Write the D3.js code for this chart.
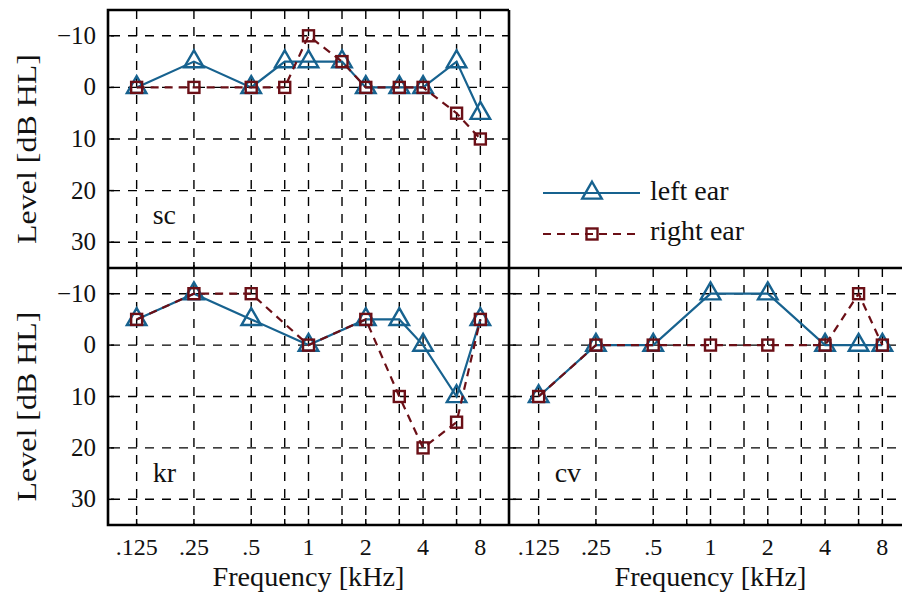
<!DOCTYPE html>
<html><head><meta charset="utf-8">
<script src="https://cdn.jsdelivr.net/npm/d3@7"></script>
<style>
body{margin:0;background:#fff;}
svg{display:block;font-family:"Liberation Serif","DejaVu Serif",serif;}
</style></head>
<body><svg id="c" width="902" height="596"></svg>
<script>
// ---- data ----
const gridFreqs = [0.125, 0.25, 0.5, 0.75, 1, 1.5, 2, 3, 4, 6, 8];
const tickFreqs = [0.125, 0.25, 0.5, 1, 2, 4, 8];
const tickLabels = [".125", ".25", ".5", "1", "2", "4", "8"];
const levelTicks = [-10, 0, 10, 20, 30];

const scFreqs  = [0.125, 0.25, 0.5, 0.75, 1, 1.5, 2, 3, 4, 6, 8];
const scLeft   = [0, -5, 0, -5, -5, -5, 0, 0, 0, -5, 5];
const scRight  = [0, 0, 0, 0, -10, -5, 0, 0, 0, 5, 10];

const krFreqs  = [0.125, 0.25, 0.5, 1, 2, 3, 4, 6, 8];
const krLeft   = [-5, -10, -5, 0, -5, -5, 0, 10, -5];
const krRight  = [-5, -10, -10, 0, -5, 10, 20, 15, -5];

const cvFreqs  = [0.125, 0.25, 0.5, 1, 2, 4, 6, 8];
const cvLeft   = [10, 0, 0, -10, -10, 0, 0, 0];
const cvRight  = [10, 0, 0, 0, 0, 0, -10, 0];

const seriesNames = ["left ear", "right ear"];
const BLUE = "#17628f", RED = "#6b0f16";

const svg = d3.select("#c");
const fDomain = [0.125/Math.SQRT2, 8*Math.SQRT2];
const yDomain = [-15, 35];
const TRI = 165, SQ = 11;

function panel(cfg){
  const x = d3.scaleLog().domain(fDomain).range([cfg.x0, cfg.x1]);
  const y = d3.scaleLinear().domain(yDomain).range([cfg.y0, cfg.y1]);
  const g = svg.append("g");
  // grid
  g.selectAll(".vg").data(gridFreqs).join("line")
    .attr("x1", d=>x(d)).attr("x2", d=>x(d)).attr("y1", cfg.y0).attr("y2", cfg.y1)
    .attr("stroke","#000").attr("stroke-width",1.4).attr("stroke-dasharray","9,8");
  g.selectAll(".hg").data(levelTicks).join("line")
    .attr("x1", cfg.x0).attr("x2", cfg.x1).attr("y1", d=>y(d)).attr("y2", d=>y(d))
    .attr("stroke","#000").attr("stroke-width",1.4).attr("stroke-dasharray","9,8").attr("stroke-dashoffset",-3);
  // series
  const line = d3.line().x(d=>x(d[0])).y(d=>y(d[1]));
  const L = cfg.freqs.map((f,i)=>[f, cfg.left[i]]);
  const R = cfg.freqs.map((f,i)=>[f, cfg.right[i]]);
  g.append("path").datum(L).attr("d", line).attr("fill","none").attr("stroke",BLUE).attr("stroke-width",2.2);
  g.selectAll(".tri").data(L).join("path")
    .attr("d", d3.symbol(d3.symbolTriangle, TRI))
    .attr("transform", d=>`translate(${x(d[0])},${y(d[1])})`)
    .attr("fill","none").attr("stroke",BLUE).attr("stroke-width",2.4);
  g.append("path").datum(R).attr("d", line).attr("fill","none").attr("stroke",RED).attr("stroke-width",2.2).attr("stroke-dasharray","8,6");
  g.selectAll(".sq").data(R).join("rect")
    .attr("x", d=>x(d[0])-SQ/2).attr("y", d=>y(d[1])-SQ/2).attr("width",SQ).attr("height",SQ)
    .attr("fill","none").attr("stroke",RED).attr("stroke-width",2.4);
  // axes ticks (inner)
  const tk = 6;
  g.selectAll(".yt").data(levelTicks).join("line")
    .attr("x1", cfg.x0).attr("x2", cfg.x0+tk).attr("y1", d=>y(d)).attr("y2", d=>y(d))
    .attr("stroke","#000").attr("stroke-width",1.5);
  g.selectAll(".xt").data(gridFreqs).join("line")
    .attr("x1", d=>x(d)).attr("x2", d=>x(d)).attr("y1", cfg.y1).attr("y2", cfg.y1-tk)
    .attr("stroke","#000").attr("stroke-width",1.5);
  // label
  g.append("text").attr("x", x(0.125)+16).attr("y", y(25)+8)
    .attr("font-size",28).attr("fill","#111").text(cfg.name);
  return {x,y,g};
}

const P1 = panel({x0:108,x1:509,y0:10,y1:268,freqs:scFreqs,left:scLeft,right:scRight,name:"sc"});
const P2 = panel({x0:108,x1:509,y0:268,y1:525,freqs:krFreqs,left:krLeft,right:krRight,name:"kr"});
const P3 = panel({x0:510,x1:911,y0:268,y1:525,freqs:cvFreqs,left:cvLeft,right:cvRight,name:"cv"});

// frames
const fr = svg.append("g").attr("fill","none").attr("stroke","#000").attr("stroke-width",2.6);
fr.append("path").attr("d", `M509,10 H108 V525 H920`);
fr.append("path").attr("d", `M509,10 V525`);
fr.append("path").attr("d", `M108,268 H920`);

// y tick labels and titles
[P1,P2].forEach(P=>{
  svg.append("g").selectAll("text").data(levelTicks).join("text")
    .attr("x", 96).attr("y", d=>P.y(d)+8).attr("text-anchor","end")
    .attr("font-size",25).attr("fill","#111")
    .text(d=> d<0 ? "\u2212"+Math.abs(d) : d);
  const yr = P.y.range();
  svg.append("text").attr("transform", `translate(36,${(yr[0]+yr[1])/2+10}) rotate(-90)`)
    .attr("text-anchor","middle").attr("font-size",28).attr("fill","#111")
    .attr("textLength",190).attr("lengthAdjust","spacingAndGlyphs").text("Level [dB HL]");
});
// x tick labels and titles
[P2,P3].forEach(P=>{
  svg.append("g").selectAll("text").data(tickFreqs).join("text")
    .attr("x", d=>P.x(d)).attr("y", 555).attr("text-anchor","middle")
    .attr("font-size",24).attr("fill","#111")
    .text((d,i)=>tickLabels[i]);
  svg.append("text").attr("x", (P.x(0.125)+P.x(8))/2).attr("y", 586).attr("text-anchor","middle")
    .attr("font-size",27).attr("fill","#111")
    .attr("textLength",192).attr("lengthAdjust","spacingAndGlyphs").text("Frequency [kHz]");
});

// legend
const lg = svg.append("g");
lg.append("line").attr("x1",543).attr("x2",640).attr("y1",193).attr("y2",193).attr("stroke",BLUE).attr("stroke-width",2.2);
lg.append("path").attr("d", d3.symbol(d3.symbolTriangle,TRI)).attr("transform","translate(592,193)")
  .attr("fill","none").attr("stroke",BLUE).attr("stroke-width",2.4);
lg.append("text").attr("x",650).attr("y",200).attr("font-size",28).attr("fill","#111").text(seriesNames[0]);
lg.append("line").attr("x1",543).attr("x2",640).attr("y1",234).attr("y2",234).attr("stroke",RED).attr("stroke-width",2.2).attr("stroke-dasharray","8,6");
lg.append("rect").attr("x",592-SQ/2).attr("y",234-SQ/2).attr("width",SQ).attr("height",SQ)
  .attr("fill","none").attr("stroke",RED).attr("stroke-width",2.4);
lg.append("text").attr("x",650).attr("y",240).attr("font-size",28).attr("fill","#111").text(seriesNames[1]);
</script></body></html>
